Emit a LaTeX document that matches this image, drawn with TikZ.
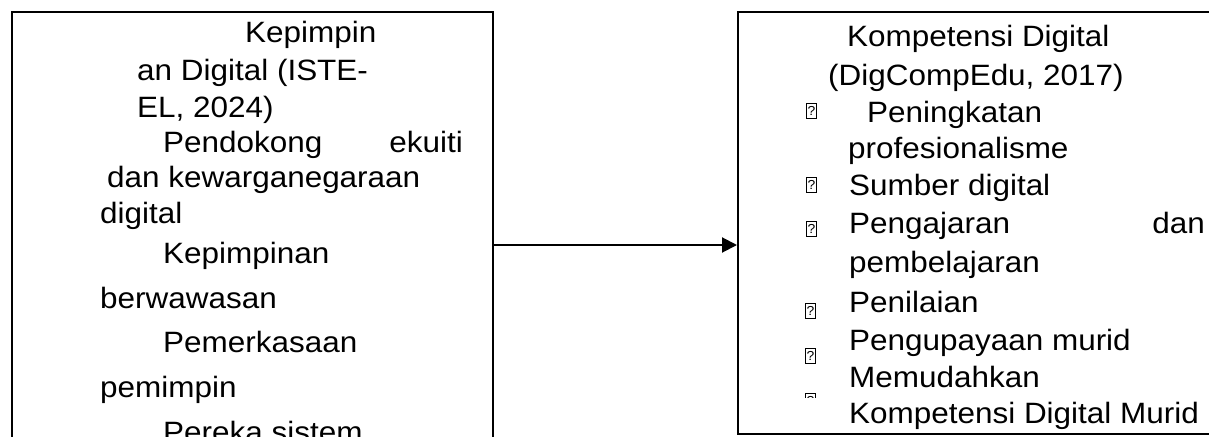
\documentclass[tikz,border=0pt]{standalone}
\usepackage{fontspec}
\setmainfont[FakeStretch=1.07]{Liberation Sans}
\usetikzlibrary{arrows.meta}
\tikzset{
  txt/.style={anchor=base west, inner sep=0pt, font=\fontsize{29.4}{34}\selectfont},
  txte/.style={txt, anchor=base east},
  frame/.style={draw, line width=2pt, rectangle, inner sep=0pt, anchor=north west},
  tofu/.style={draw, line width=0.8pt, inner sep=0pt, minimum width=10pt, minimum height=15pt, anchor=north west, font=\fontsize{13}{13}\selectfont},
  arr/.style={-{Triangle[length=15pt,width=15pt]}, line width=2pt}
}
\begin{document}
\begin{tikzpicture}[x=1pt,y=-1pt]
\useasboundingbox (0,0) rectangle (1209,436);
\clip (0,0) rectangle (1209,436);
% boxes
\node[frame, minimum width=481pt, minimum height=520pt] (L) at (11,11) {};
\node[frame, minimum width=520pt, minimum height=422pt] (R) at (737,11) {};
% left text
\node[txt] (l1) at (245,43) {Kepimpin};
\node[txt] (l2) at (137,80) {an Digital (ISTE-};
\node[txt] (l3) at (137,117) {EL, 2024)};
\node[txt] (l4a) at (163,152) {Pendokong};
\node[txte] (l4b) at (463,152) {ekuiti};
\node[txt] (l5) at (107,187) {dan kewarganegaraan};
\node[txt] (l6) at (100,223) {digital};
\node[txt] (l7) at (163,263) {Kepimpinan};
\node[txt] (l8) at (100,308) {berwawasan};
\node[txt] (l9) at (163,352) {Pemerkasaan};
\node[txt] (l10) at (100,397) {pemimpin};
\node[txt] (l11) at (163,442) {Pereka sistem};
% right text
\node[txt] (r1) at (847,47) {Kompetensi Digital};
\node[txt] (r2) at (828,85) {(DigCompEdu, 2017)};
\node[txt] (r3) at (867,122) {Peningkatan};
\node[txt] (r4) at (848,158) {profesionalisme};
\node[txt] (r5) at (849,195) {Sumber digital};
\node[txt] (r6a) at (849,233) {Pengajaran};
\node[txte] (r6b) at (1205,233) {dan};
\node[txt] (r7) at (849,272) {pembelajaran};
\node[txt] (r8) at (849,312) {Penilaian};
\node[txt] (r9) at (849,350) {Pengupayaan murid};
\node[txt] (r10) at (849,387) {Memudahkan};
\node[txt] (r11) at (849,423) {Kompetensi Digital Murid};
% missing-glyph boxes
\node[tofu] (t1) at (806,103) {?};
\node[tofu] (t2) at (806,177) {?};
\node[tofu] (t3) at (806,221) {?};
\node[tofu] (t4) at (805,303) {?};
\node[tofu] (t5) at (805,348) {?};
\begin{scope}
\clip (790,390) rectangle (830,397.5);
\node[tofu] (t6) at (805,393) {?};
\end{scope}
% connector
\coordinate (ay) at (0,245);
\draw[arr] (L.east |- ay) -- (R.west |- ay);
\end{tikzpicture}
\end{document}
